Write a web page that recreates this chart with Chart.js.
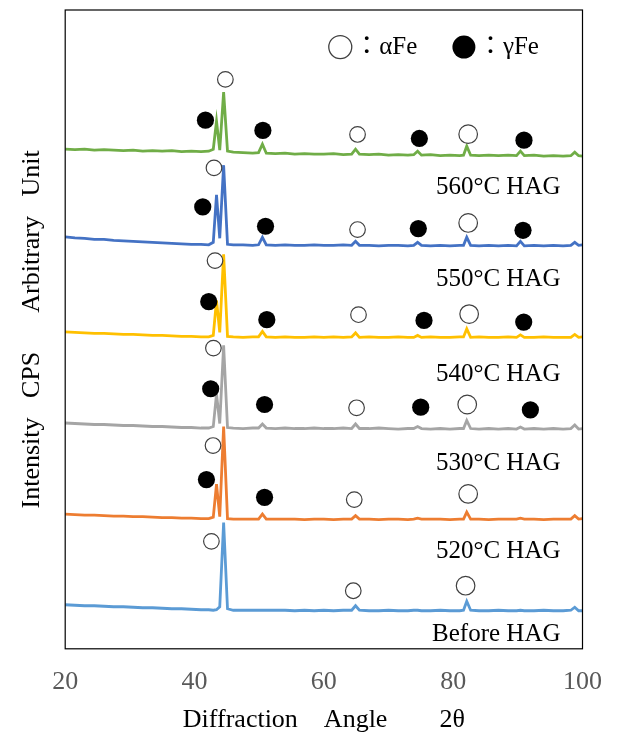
<!DOCTYPE html>
<html>
<head>
<meta charset="utf-8">
<script src="https://cdn.jsdelivr.net/npm/chart.js@4.4.1/dist/chart.umd.min.js"></script>
<style>
  html, body { margin: 0; padding: 0; background: #fff; }
</style>
</head>
<body>
<canvas id="xrd" width="620" height="733"></canvas>
<script>
// 2θ sample positions shared by every pattern
const angles = [
  20, 21.5, 23, 24.5, 26, 27.5, 29, 30.5, 32, 33.5,
  35, 36.5, 38, 39.5, 41, 42.2, 42.9, 43.4, 43.9, 44.5,
  45.1, 46, 47.5, 49, 49.9, 50.5, 51.1, 52.5, 54, 55.5,
  57, 58.5, 60, 61.5, 63, 64.3, 64.9, 65.5, 67, 68.5,
  70, 71.5, 73, 73.9, 74.5, 75.1, 76.5, 78, 79.5, 81,
  81.6, 82.1, 82.7, 84, 85.5, 87, 88.5, 89.8, 90.4, 91,
  92.5, 94, 95.5, 97, 98.2, 98.8, 99.4, 100
];

// intensities (arbitrary units, already stacked)
const hag560 = [
  499, 498.5, 499, 498, 498.5, 498, 497.5, 498, 497, 497.5,
  497, 497.5, 496.5, 497, 496.5, 497, 499, 527, 498, 556,
  497, 496, 495.5, 495, 495.5, 504, 495, 494.5, 495, 494,
  494.5, 494, 494, 494.5, 493.5, 494, 499, 494, 493.5, 494,
  493, 493.5, 493, 493.5, 497, 493, 493.5, 492.5, 493, 492.5,
  493, 502, 493, 492.5, 493, 492.5, 493, 492.5, 497, 492.5,
  493, 492, 492.5, 492, 492.5, 496, 492.5, 492
];
const hag550 = [
  411.5, 410.5, 410, 409, 409, 408, 407.5, 407, 406.5, 406,
  405.5, 405, 404.5, 404, 404, 403.5, 406, 453.5, 410, 483,
  404, 403.5, 403.5, 403, 403.5, 411, 403.5, 403, 403.5, 403,
  403, 403.5, 403, 403, 403.5, 403, 407, 403, 403, 402.5,
  403, 403, 402.5, 403, 406, 403, 402.5, 403, 402.5, 403,
  403, 411, 403, 402.5, 403, 402.5, 403, 402.5, 407, 402.5,
  403, 402.5, 403, 402.5, 403, 406, 403, 403.5
];
const hag540 = [
  316.5, 316, 315.5, 315, 315, 314.5, 314, 314, 313.5, 313,
  313, 312.5, 312, 312, 311.5, 311.5, 313, 348, 316, 394,
  312, 311.5, 311, 311.5, 311.5, 317, 311.5, 311, 311.5, 311,
  311, 311.5, 311, 311.5, 311, 311.5, 315.5, 311, 311.5, 311,
  311, 311.5, 311, 311, 313, 311, 311.5, 311, 311, 311.5,
  311.5, 319.5, 311, 311.5, 311, 311, 311.5, 311, 313.5, 311,
  311, 311.5, 311, 311, 311, 314, 311, 311.5
];
const hag530 = [
  225.5, 225, 224.5, 224, 224, 223.5, 223, 223, 222.5, 222,
  222, 221.5, 221, 221, 220.5, 220.5, 222, 254.5, 225, 303,
  221, 220.5, 220, 220.5, 220.5, 224.5, 220.5, 220, 220.5, 220,
  220, 220.5, 220, 220, 220.5, 220, 224.5, 220, 220, 220.5,
  220, 219.5, 220, 220, 222, 220, 219.5, 220, 219.5, 220,
  220, 228, 220, 219.5, 220, 219.5, 220, 219.5, 221.5, 219.5,
  220, 219.5, 220, 219.5, 220, 223.5, 219.5, 220
];
const hag520 = [
  134.5, 134, 133.5, 133.5, 133, 132.5, 132.5, 132, 132, 131.5,
  131, 131, 130.5, 130.5, 130, 130, 131.5, 164.5, 132, 222,
  130, 129.5, 129.5, 129.5, 129.5, 134.5, 129.5, 129.5, 129.5, 129.5,
  129, 129.5, 129.5, 129, 129.5, 129.5, 133, 129.5, 129.5, 129,
  129.5, 129.5, 129, 129.5, 130.5, 129.5, 129.5, 129.5, 129, 129.5,
  129.5, 136.5, 129.5, 129.5, 129, 129.5, 129.5, 129.5, 130.5, 129.5,
  129.5, 129, 129.5, 129.5, 129.5, 133, 129.5, 130
];
const beforeHag = [
  44, 43.5, 43, 43, 42.5, 42, 42, 41.5, 41, 41,
  40.5, 40, 40, 39.5, 39, 39, 38.5, 39, 42, 126,
  40, 38.5, 38.5, 38.5, 38.5, 38.5, 38.5, 38.5, 38.5, 38,
  38.5, 38, 38.5, 38, 38.5, 38.5, 43, 38.5, 38, 38,
  38.5, 38, 38, 38.5, 38.5, 38, 38, 38.5, 38, 38,
  38.5, 47.5, 38.5, 38, 38, 38.5, 38, 38, 38.5, 38,
  38, 38.5, 38, 38, 38.5, 41.5, 38, 38
];

// peak markers: open = αFe, filled = γFe
const alphaAngles = [44.77, 65.21, 82.32, 43.01, 65.21, 82.32, 43.17, 65.36, 82.47,
                     42.92, 65.06, 82.17, 42.86, 64.70, 82.32, 42.61, 64.55, 81.92];
const alphaValues = [568.7, 513.7, 514, 480.3, 418.7, 425.3, 387.7, 333.7, 334.3,
                     300.3, 240.7, 244, 203, 149, 154.7, 107.3, 58, 63];
const gammaAngles = [41.69, 50.57, 74.77, 90.95, 41.27, 50.98, 74.61, 90.80, 42.20,
                     51.18, 75.49, 90.91, 42.50, 50.83, 74.98, 91.94, 41.84, 50.83];
const gammaValues = [528, 517.7, 509.7, 508, 441.3, 422, 419.7, 418, 346.7,
                     328.7, 328, 326.3, 259.7, 244, 241.3, 238.7, 169, 151.3];

// sample names written under each pattern
const sampleNames = ['560°C HAG', '550°C HAG', '540°C HAG', '530°C HAG', '520°C HAG', 'Before HAG'];
const sampleNameY = [461, 369, 274, 185, 97, 14];
const sampleNameX = 96.6;

const legendText = ['：αFe', '：γFe'];
const legendAngles = [62.54, 81.66];
const legendY = 601;

const serif = '"Liberation Serif", "Noto Sans CJK JP", serif';

function pts(xs, ys) {
    return xs.map((x, i) => ({ x: x, y: ys[i] }));
}

function pattern(label, values, color) {
    return {
        type: 'line',
        label: label,
        data: pts(angles, values),
        borderColor: color,
        borderWidth: 2.8,
        pointRadius: 0,
        tension: 0,
        fill: false
    };
}

// frame, sample names and the α/γ key
const annotate = {
    id: 'annotate',
    afterDatasetsDraw(chart) {
        const { ctx, chartArea: a, scales: { x, y } } = chart;
        ctx.save();
        ctx.strokeStyle = '#000';
        ctx.lineWidth = 1.2;
        ctx.strokeRect(a.left, a.top, a.width, a.height);

        ctx.fillStyle = '#000';
        ctx.font = '25px ' + serif;
        ctx.textAlign = 'right';
        ctx.textBaseline = 'middle';
        sampleNames.forEach((name, i) => {
            ctx.fillText(name, x.getPixelForValue(sampleNameX), y.getPixelForValue(sampleNameY[i]));
        });

        const ly = y.getPixelForValue(legendY);
        legendText.forEach((t, i) => {
            const cx = x.getPixelForValue(legendAngles[i]);
            ctx.beginPath();
            ctx.arc(cx, ly, 11.5, 0, Math.PI * 2);
            if (i === 0) {
                ctx.fillStyle = '#fff';
                ctx.fill();
                ctx.strokeStyle = '#404040';
                ctx.lineWidth = 1.3;
                ctx.stroke();
            } else {
                ctx.fillStyle = '#000';
                ctx.fill();
            }
            ctx.fillStyle = '#000';
            ctx.textAlign = 'left';
            ctx.fillText(t, cx + 14, ly);
        });
        ctx.restore();
    }
};

const config = {
    data: {
        datasets: [
            {
                type: 'scatter',
                label: 'αFe',
                data: pts(alphaAngles, alphaValues),
                backgroundColor: '#fff',
                borderColor: '#404040',
                borderWidth: 1.2,
                pointRadius: ctx => (ctx.raw && ctx.raw.x > 80 ? 9.3 : 7.8)
            },
            {
                type: 'scatter',
                label: 'γFe',
                data: pts(gammaAngles, gammaValues),
                backgroundColor: '#000',
                borderColor: '#000',
                borderWidth: 0,
                pointRadius: 8.6
            },
            pattern('560°C HAG', hag560, '#70AD47'),
            pattern('550°C HAG', hag550, '#4472C4'),
            pattern('540°C HAG', hag540, '#FFC000'),
            pattern('530°C HAG', hag530, '#A5A5A5'),
            pattern('520°C HAG', hag520, '#ED7D31'),
            pattern('Before HAG', beforeHag, '#5B9BD5')
        ]
    },
    options: {
        responsive: false,
        animation: false,
        layout: { autoPadding: false, padding: { left: 0, right: 36, top: 10, bottom: 0 } },
        plugins: {
            legend: { display: false },
            tooltip: { enabled: false }
        },
        scales: {
            x: {
                type: 'linear',
                min: 20,
                max: 100,
                grid: { display: false, drawTicks: false },
                border: { display: false },
                ticks: {
                    stepSize: 20,
                    padding: 18,
                    color: '#595959',
                    font: { family: serif, size: 26 }
                },
                title: {
                    display: true,
                    text: 'Diffraction    Angle        2θ',
                    color: '#000',
                    font: { family: serif, size: 26, lineHeight: 1 },
                    padding: { top: -9, bottom: 0 }
                }
            },
            y: {
                min: 0,
                max: 638,
                grid: { display: false, drawTicks: false },
                border: { display: false },
                ticks: { display: false },
                title: {
                    display: true,
                    text: 'Intensity   CPS      Arbitrary   Unit',
                    color: '#000',
                    font: { family: serif, size: 26 },
                    padding: { top: 17, bottom: 17 }
                }
            }
        }
    },
    plugins: [annotate]
};

new Chart(document.getElementById('xrd').getContext('2d'), config);
</script>
</body>
</html>
